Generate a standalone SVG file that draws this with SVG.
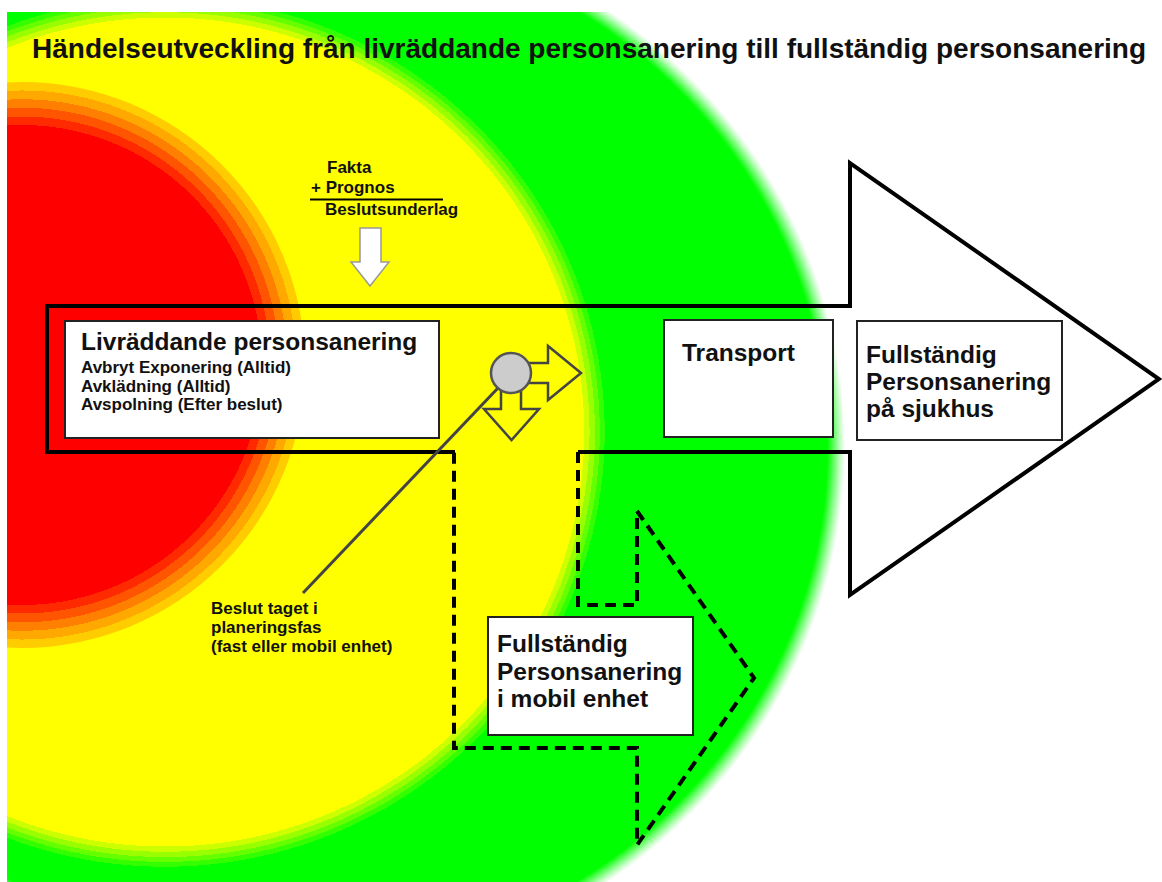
<svg xmlns="http://www.w3.org/2000/svg" width="1162" height="882" viewBox="0 0 1162 882">
<style>
  text { font-family: "Liberation Sans", Arial, sans-serif; font-weight: bold; fill: #111; }
  .title { font-size: 28px; }
  .big { font-size: 24.5px; }
  .small { font-size: 17px; }
  .box { fill: #ffffff; stroke: #222; stroke-width: 2; }
  .solid { fill: none; stroke: #000; stroke-width: 4; stroke-linejoin: miter; }
  .dash { fill: none; stroke: #000; stroke-width: 4; stroke-dasharray: 11 7; }
  .outline { fill: none; stroke: #444; stroke-width: 2.5; stroke-linejoin: miter; }
</style>
<defs>
  <clipPath id="area"><rect x="7" y="12" width="1155" height="870"/></clipPath>
  <radialGradient id="gGreen" cx="0.5" cy="0.5" r="0.5">
    <stop offset="0" stop-color="#00ff00"/>
    <stop offset="0.968" stop-color="#00ff00"/>
    <stop offset="0.98" stop-color="#66ff66"/>
    <stop offset="0.99" stop-color="#bbffbb"/>
    <stop offset="1" stop-color="#ffffff"/>
  </radialGradient>
  <radialGradient id="gYellow" cx="0.5" cy="0.5" r="0.5">
    <stop offset="0" stop-color="#ffff00"/>
    <stop offset="0.942" stop-color="#ffff00"/>
    <stop offset="0.942" stop-color="#ccff00"/>
    <stop offset="0.954" stop-color="#ccff00"/>
    <stop offset="0.954" stop-color="#99ff00"/>
    <stop offset="0.966" stop-color="#99ff00"/>
    <stop offset="0.966" stop-color="#66ff00"/>
    <stop offset="0.977" stop-color="#66ff00"/>
    <stop offset="0.977" stop-color="#33ff00"/>
    <stop offset="0.988" stop-color="#33ff00"/>
    <stop offset="0.988" stop-color="#00ff00"/>
    <stop offset="1" stop-color="#00ff00"/>
  </radialGradient>
  <radialGradient id="gRed" cx="0.5" cy="0.5" r="0.5">
    <stop offset="0" stop-color="#ff0000"/>
    <stop offset="0.848" stop-color="#ff0000"/>
    <stop offset="0.848" stop-color="#ff2a00"/>
    <stop offset="0.878" stop-color="#ff2a00"/>
    <stop offset="0.878" stop-color="#ff5500"/>
    <stop offset="0.909" stop-color="#ff5500"/>
    <stop offset="0.909" stop-color="#ff8000"/>
    <stop offset="0.939" stop-color="#ff8000"/>
    <stop offset="0.939" stop-color="#ffa800"/>
    <stop offset="0.97" stop-color="#ffa800"/>
    <stop offset="0.97" stop-color="#ffcc00"/>
    <stop offset="1" stop-color="#ffcc00"/>
  </radialGradient>
</defs>
<rect x="0" y="0" width="1162" height="882" fill="#ffffff"/>
<g id="background" clip-path="url(#area)">
  <ellipse cx="295" cy="446" rx="550" ry="530" fill="url(#gGreen)"/>
  <ellipse cx="165" cy="432" rx="445" ry="440" fill="url(#gYellow)"/>
  <circle cx="22" cy="365" r="283" fill="url(#gRed)"/>
</g>
<text id="title" class="title" x="32" y="58">Händelseutveckling från livräddande personsanering till fullständig personsanering</text>
<g id="connectors">
  <path class="solid" d="M455 452 H47 V306 H850 V163 L1159 379 L850 595 V452 H578"/>
  <path class="dash" d="M578 452 V605 H637 V511 L754 678 L637 845 V748 H454 V452"/>
  <line x1="498" y1="388" x2="303" y2="593" stroke="#444" stroke-width="3"/>
  <polygon points="360,228 381,228 381,262 389,262 370,286 351,262 360,262" fill="#ffffff" stroke="#999" stroke-width="1.5"/>
</g>
<g id="fakta">
  <text class="small" x="327" y="173">Fakta</text>
  <text class="small" x="311" y="193">+ Prognos</text>
  <line x1="310" y1="199.5" x2="443" y2="199.5" stroke="#000" stroke-width="2"/>
  <text class="small" x="325" y="215">Beslutsunderlag</text>
</g>
<g id="livraddande">
  <rect class="box" x="65" y="321" width="374" height="117"/>
  <text class="big" x="81" y="350">Livräddande personsanering</text>
  <text class="small" x="81" y="373">Avbryt Exponering (Alltid)</text>
  <text class="small" x="81" y="391.5">Avklädning (Alltid)</text>
  <text class="small" x="81" y="410">Avspolning (Efter beslut)</text>
</g>
<g id="beslut-punkt">
  <polygon class="outline" points="525,363 548,363 548,346 581,373 548,400 548,383 525,383"/>
  <polygon class="outline" points="501,390 501,409 484,409 511.5,440 539,409 521,409 521,390"/>
  <circle cx="511" cy="373" r="20" fill="#cccccc" stroke="#555" stroke-width="2.5"/>
</g>
<g id="beslut-label">
  <text class="small" x="211" y="614">Beslut taget i</text>
  <text class="small" x="211" y="633">planeringsfas</text>
  <text class="small" x="211" y="652">(fast eller mobil enhet)</text>
</g>
<g id="transport">
  <rect class="box" x="664" y="320" width="169" height="117"/>
  <text class="big" x="682" y="361">Transport</text>
</g>
<g id="sjukhus">
  <rect class="box" x="857" y="321" width="205" height="119"/>
  <text class="big" x="866" y="363">Fullständig</text>
  <text class="big" x="866" y="390">Personsanering</text>
  <text class="big" x="866" y="417">på sjukhus</text>
</g>
<g id="mobil">
  <rect class="box" x="488" y="617" width="205" height="118"/>
  <text class="big" x="497" y="652">Fullständig</text>
  <text class="big" x="497" y="679.5">Personsanering</text>
  <text class="big" x="497" y="707">i mobil enhet</text>
</g>
</svg>
